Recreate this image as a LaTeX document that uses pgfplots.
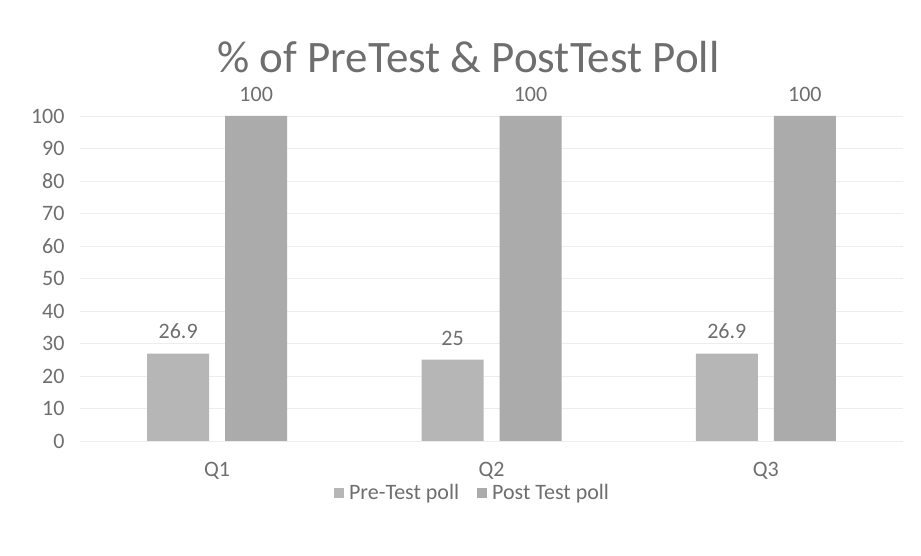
\documentclass[border=0pt]{standalone}
\usepackage{fontspec}
\setmainfont{Carlito}
\usepackage{pgfplots}
\pgfplotsset{compat=1.18}
\definecolor{txt}{HTML}{6E6E6E}
\definecolor{preC}{HTML}{B6B6B6}
\definecolor{postC}{HTML}{ABABAB}
\definecolor{gridC}{HTML}{EDEDED}
\begin{document}
\begin{tikzpicture}
\path[use as bounding box] (0,0) rectangle (921pt,556pt);
\begin{axis}[
  at={(80pt,115pt)}, anchor=south west,
  scale only axis, width=823pt, height=325pt,
  xmin=-0.5, xmax=2.5, ymin=0, ymax=100,
  ytick={0,10,...,100},
  xtick={0,1,2}, xticklabels={Q1,Q2,Q3},
  ybar=16pt, bar width=62pt,
  ymajorgrids, grid style={gridC, line width=0.8pt},
  axis line style={draw=none},
  major tick length=0pt,
  tick label style={font=\fontsize{22}{26}\selectfont, text=txt},
  /pgf/number format/assume math mode=true,
  yticklabel style={xshift=-12pt},
  xticklabel style={yshift=-18pt},
  title={\% of PreTest \& PostTest Poll},
  title style={at={(0.472,1.163)}, anchor=center, font=\fontsize{45}{52}\selectfont, text=txt},
  nodes near coords,
  every node near coord/.append style={font=\fontsize{22}{26}\selectfont, text=txt, yshift=11pt},
  legend style={at={(0.477,-0.16)}, anchor=center, draw=none, legend columns=2,
    font=\fontsize{22}{26}\selectfont, text=txt,
    /tikz/every odd column/.append style={column sep=3pt},
    /tikz/every even column/.append style={column sep=16pt}},
  legend image code/.code={\fill[#1, draw=none] (0pt,-5pt) rectangle (10pt,5pt);},
]
\addplot[fill=preC, draw=none] coordinates {(0,26.9) (1,25) (2,26.9)};
\addplot[fill=postC, draw=none] coordinates {(0,100) (1,100) (2,100)};
\legend{Pre-Test poll, Post Test poll}
\end{axis}
\end{tikzpicture}
\end{document}
